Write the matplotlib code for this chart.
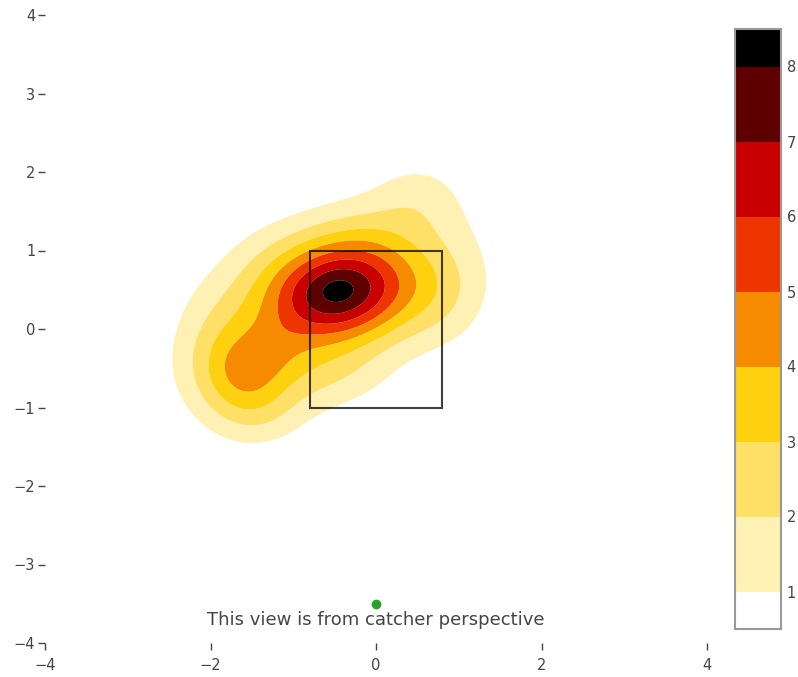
import numpy as np
import matplotlib
matplotlib.use("Agg")
import matplotlib.pyplot as plt
from matplotlib.patches import Rectangle

# ---- density surface, as a sum of smooth components ----
comp_x   = [-0.45, -0.40, -1.45, 0.80, -1.80, -1.00, -1.20, -0.20, -0.60, 0.50, 0.90, -1.50, -1.90, -0.47, -2.00, -0.50]
comp_y   = [ 0.48,  0.45, -0.45, 0.40, -0.20, -0.90,  0.90,  1.20,  0.20, 1.70, 1.20, -1.00, -0.40,  0.50,  0.40, -0.60]
comp_sx  = [ 0.55,  0.90,  0.40, 0.40,  0.45,  0.50,  0.50,  0.50,  1.10, 0.40, 0.35,  0.40,  0.35,  0.15,  0.40,  0.50]
comp_sy  = [ 0.40,  0.65,  0.35, 0.45,  0.50,  0.40,  0.40,  0.35,  0.80, 0.35, 0.40,  0.35,  0.40,  0.12,  0.40,  0.30]
comp_rho = [ 0.10,  0.30,  0.30, 0.00,  0.20,  0.20,  0.00,  0.00,  0.50, 0.00, 0.00,  0.00,  0.00,  0.00,  0.00,  0.00]
comp_amp = [ 4.38,  2.56,  1.75, 0.99,  0.95,  0.39,  0.65,  0.73,  1.07, 0.96, 0.09,  1.56,  0.67,  0.28,  0.25,  0.71]

levels = [1, 2, 3, 4, 5, 6, 7, 8]
band_colors = ['#fff0b4', '#ffe066', '#fdd10f', '#f68b00', '#ee3500', '#c80000', '#5e0000', '#000000']
cbar_range = (0.5, 8.5)

zone_x = [-0.8, 0.8]
zone_y = [-1.0, 1.0]
marker_xy = (0.0, -3.5)
note = "This view is from catcher perspective"
x_ticks = [-4, -2, 0, 2, 4]
y_ticks = [-4, -3, -2, -1, 0, 1, 2, 3, 4]


def component(x, y, i):
    dx = (x - comp_x[i]) / comp_sx[i]
    dy = (y - comp_y[i]) / comp_sy[i]
    r = comp_rho[i]
    q = (dx * dx + dy * dy - 2 * r * dx * dy) / (1 - r * r)
    return comp_amp[i] * np.exp(-0.5 * q)


xs = np.linspace(-3.5, 2.5, 361)
ys = np.linspace(-2.5, 3.0, 331)
X, Y = np.meshgrid(xs, ys)
Z = sum(component(X, Y, i) for i in range(len(comp_amp)))

txt = '#444444'
fig = plt.figure(figsize=(7.98, 6.77), dpi=100)
ax = fig.add_axes([45 / 798, 34 / 677, 662 / 798, 628 / 677])
ax.contourf(X, Y, Z, levels=levels + [1000], colors=band_colors, antialiased=True)

ax.add_patch(Rectangle((zone_x[0], zone_y[0]), zone_x[1] - zone_x[0], zone_y[1] - zone_y[0],
                       fill=False, edgecolor='black', alpha=0.75, linewidth=1.5, zorder=4))
ax.plot([marker_xy[0]], [marker_xy[1]], 'o', color='#2ca02c', markersize=6, zorder=5)
ax.text(0, -3.71, note, ha='center', va='center', fontsize=13, color=txt, family='DejaVu Sans')

ax.set_xlim(-4, 4)
ax.set_ylim(-4, 4)
ax.set_xticks(x_ticks)
ax.set_yticks(y_ticks)
for s in ax.spines.values():
    s.set_visible(False)
ax.tick_params(axis='both', direction='out', length=5, width=1, color='#444444',
               labelcolor=txt, labelsize=10.5)
ax.tick_params(axis='x', pad=6)
ax.tick_params(axis='y', pad=2)

# colour bar
cax = fig.add_axes([735 / 798, 48 / 677, 46 / 798, 600 / 677])
edges = [cbar_range[0]] + levels + [cbar_range[1]]
cols = ['#ffffff'] + band_colors
for lo, hi, c in zip(edges[:-1], edges[1:], cols):
    cax.bar(0.5, hi - lo, bottom=lo, width=1.0, color=c, edgecolor='none')
cax.set_xlim(0, 1)
cax.set_ylim(*cbar_range)
cax.set_xticks([])
cax.set_yticks(levels)
cax.yaxis.tick_right()
cax.tick_params(axis='y', length=0, pad=4, labelcolor=txt, labelsize=10.5)
for s in cax.spines.values():
    s.set_edgecolor('#999999')
    s.set_linewidth(1.5)

fig.savefig("out.png", dpi=100)
